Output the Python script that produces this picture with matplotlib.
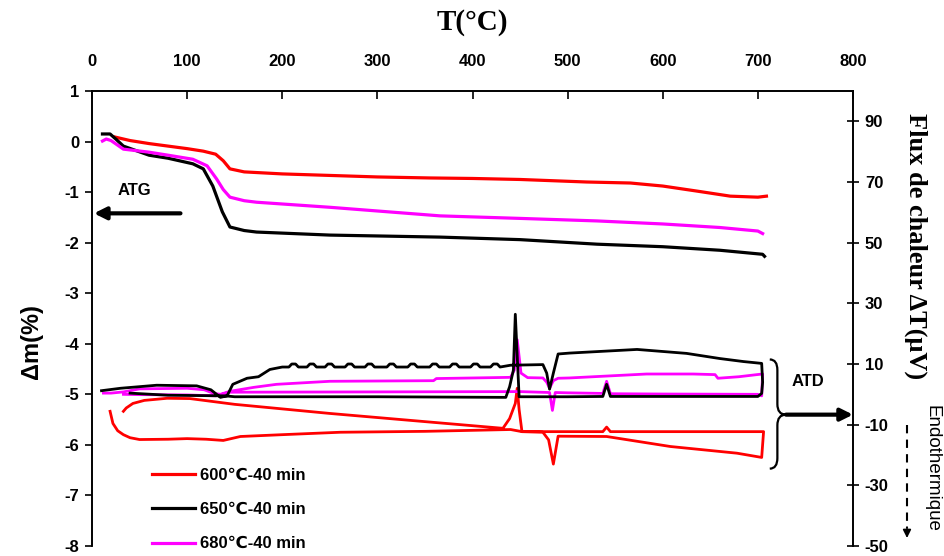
import matplotlib
matplotlib.use('Agg')

import matplotlib.pyplot as plt
from matplotlib.path import Path
from matplotlib.patches import PathPatch
from matplotlib.lines import Line2D

plt.rcParams['axes.unicode_minus'] = False

# ATG (perte de masse, axe gauche)
t_atg_600 = [24, 40, 60, 80, 100, 117, 130, 138, 145, 160, 200, 250, 300, 355, 400, 450, 520, 566, 600, 636, 671, 700, 709]
m_atg_600 = [0.09, 0.02, -0.04, -0.09, -0.14, -0.19, -0.25, -0.38, -0.54, -0.60, -0.64, -0.67, -0.70, -0.72, -0.73,
             -0.75, -0.80, -0.82, -0.88, -0.98, -1.08, -1.10, -1.08]

t_atg_650 = [11, 19, 25, 33, 60, 80, 106, 117, 127, 137, 145, 160, 173, 250, 366, 450, 531, 600, 660, 705, 707]
m_atg_650 = [0.15, 0.15, 0.05, -0.09, -0.27, -0.33, -0.44, -0.54, -0.88, -1.39, -1.69, -1.76, -1.79, -1.85, -1.89,
             -1.94, -2.03, -2.08, -2.15, -2.23, -2.27]

t_atg_680 = [11, 15, 20, 33, 60, 80, 106, 121, 131, 138, 145, 160, 173, 250, 366, 450, 531, 600, 660, 700, 705]
m_atg_680 = [0.01, 0.05, 0.02, -0.15, -0.21, -0.27, -0.35, -0.48, -0.74, -0.95, -1.10, -1.17, -1.20, -1.30, -1.47,
             -1.52, -1.57, -1.63, -1.70, -1.77, -1.82]

# ATD (flux de chaleur, axe droit) - boucles chauffage / refroidissement
t_atd_600 = [19, 22, 27, 33, 40, 50, 80, 100, 120, 138, 156, 200, 261, 350, 440, 452, 474, 480, 485, 490, 541, 608,
             678, 704, 706, 650, 545, 541, 537, 452, 449, 447, 445, 439, 432, 350, 250, 200, 150, 103, 79, 55, 43, 36, 33]
f_atd_600 = [-5.6, -9.6, -12.0, -13.3, -14.3, -14.9, -14.8, -14.6, -14.8, -15.2, -13.9, -13.3, -12.5, -12.2, -11.6,
             -12.3, -12.5, -15.0, -23.0, -13.8, -13.9, -17.2, -19.4, -20.8, -12.3, -12.3, -12.3, -10.8, -12.3, -12.3,
             -5.0, 2.0, -3.0, -8.0, -11.2, -9.0, -6.3, -4.8, -3.3, -1.4, -1.3, -2.0, -3.0, -4.5, -5.6]

t_atd_650 = [10, 30, 68, 110, 125, 135, 142, 148, 163, 175, 187, 200,
             207, 210, 214, 217, 226, 229, 233, 236, 245, 248, 252, 255, 266, 269, 273, 276,
             287, 290, 294, 297, 310, 313, 317, 320, 332, 335, 339, 342, 355, 358, 362, 365,
             376, 379, 383, 386, 398, 401, 405, 408, 419, 422, 426, 429,
             440, 474, 478, 481, 485, 490, 502, 573, 625, 660, 685, 704,
             705, 704, 700, 600, 545, 541, 537, 500, 449, 445, 443, 439, 435, 300, 150, 140, 80, 40]
f_atd_650 = [1.2, 2.0, 3.0, 2.8, 1.5, -1.0, -0.5, 3.3, 5.3, 5.8, 8.2, 9.0,
             9.0, 10.0, 10.0, 9.0, 9.0, 10.0, 10.0, 9.0, 9.0, 10.0, 10.0, 9.0, 9.0, 10.0, 10.0, 9.0,
             9.0, 10.0, 10.0, 9.0, 9.0, 10.0, 10.0, 9.0, 9.0, 10.0, 10.0, 9.0, 9.0, 10.0, 10.0, 9.0,
             9.0, 10.0, 10.0, 9.0, 9.0, 10.0, 10.0, 9.0, 9.0, 10.0, 10.0, 9.0,
             9.6, 9.8, 7.0, 1.7, 7.0, 13.3, 13.6, 14.8, 13.5, 11.8, 10.8, 10.2,
             4.0, 0.3, -0.7, -0.7, -0.7, 3.3, -0.7, -0.8, -0.8, 26.4, 8.0, 2.5, -1.0, -0.8, -0.8, -0.5, -0.3, 0.4]

t_atd_680 = [12, 20, 33, 50, 100, 118, 128, 135, 145, 170, 194, 250, 359, 362, 440, 444, 447, 451, 458, 474, 478, 481,
             485, 490, 502, 583, 632, 655, 658, 680, 699, 705,
             704, 700, 600, 545, 541, 537, 500, 487, 484, 481, 450, 300, 145, 130, 100, 50, 33]
f_atd_680 = [0.4, 0.4, 0.8, 1.8, 2.0, 1.5, 0.3, 0.0, 1.0, 2.3, 3.3, 4.3, 4.5, 5.2, 5.6, 8.0, 18.0, 7.0, 5.5, 5.4, 4.0,
             2.0, 4.5, 5.3, 5.4, 6.7, 6.7, 6.5, 5.3, 5.8, 6.5, 6.7,
             -0.5, 0.0, 0.1, 0.2, 4.3, 0.3, 0.5, 0.6, -5.3, 0.6, 0.9, 0.8, 0.7, -0.5, -0.2, -0.1, 0.0]

labels = ['600\u2103-40 min', '650\u2103-40 min', '680\u2103-40 min']
couleurs = ['#ff0000', '#000000', '#ff00ff']

sans = ['Liberation Sans', 'DejaVu Sans']
serif = ['Liberation Serif', 'DejaVu Serif']

fig = plt.figure(figsize=(9.44, 5.56), dpi=100)
ax = fig.add_axes([92 / 944, 1 - 546 / 556, 761 / 944, 455 / 556])
ax2 = ax.twinx()

# Courbes ATG
l1, = ax.plot(t_atg_600, m_atg_600, color=couleurs[0], lw=2.3)
l2, = ax.plot(t_atg_650, m_atg_650, color=couleurs[1], lw=2.3)
l3, = ax.plot(t_atg_680, m_atg_680, color=couleurs[2], lw=2.3)

# Courbes ATD
ax2.plot(t_atd_600, f_atd_600, color=couleurs[0], lw=2.0)
ax2.plot(t_atd_680, f_atd_680, color=couleurs[2], lw=2.0)
ax2.plot(t_atd_650, f_atd_650, color=couleurs[1], lw=2.0)

ax.set_xlim(0, 800)
ax.set_ylim(-8, 1)
ax2.set_ylim(-50, 100)
ax.set_xticks(range(0, 801, 100))
ax.set_yticks(range(-8, 2))
ax2.set_yticks(range(-50, 91, 20))

ax.xaxis.tick_top()
ax.tick_params(axis='x', direction='in', length=6, width=1.2, pad=16, labelsize=12)
ax.tick_params(axis='y', direction='out', length=5, width=1.2, pad=4, labelsize=12)
ax2.tick_params(axis='y', direction='inout', length=9, width=1.2, pad=4, labelsize=12)
for a in (ax, ax2):
    for lab in a.get_xticklabels() + a.get_yticklabels():
        lab.set_family(sans)
        lab.set_fontweight('bold')
    a.spines['bottom'].set_visible(False)
    for s in ('top', 'left', 'right'):
        a.spines[s].set_linewidth(1.2)

# Titres des axes
fig.text(472 / 944, 1 - 22 / 556, 'T(°C)', family=serif, fontweight='bold', fontsize=21,
         ha='center', va='center')
fig.text(31 / 944, 1 - 342 / 556, '\u0394m(%)', family=sans, fontweight='bold', fontsize=17,
         rotation=90, ha='center', va='center')
fig.text(916 / 944, 1 - 246 / 556, 'Flux de chaleur \u0394T(\u03bcV)', family=serif, fontweight='bold',
         fontsize=19, rotation=270, ha='center', va='center')

# ATG fleche
ax.text(45, -0.96, 'ATG', family=sans, fontweight='bold', fontsize=12, ha='center', va='center')
ax.annotate('', xy=(2, -1.42), xytext=(93, -1.42),
            arrowprops=dict(arrowstyle='-|>', lw=3, color='k', mutation_scale=18, shrinkA=0, shrinkB=0))

# ATD accolade + fleche
x0, x1, x2 = 712.5, 720.5, 729.5
yh, ym, yb, r = 11.5, -6.7, -24.5, 3.5
verts = [(x0, yh), (x1, yh), (x1, yh - r),
         (x1, ym + r),
         (x1, ym), (x2, ym),
         (x1, ym), (x1, ym - r),
         (x1, yb + r),
         (x1, yb), (x0, yb)]
codes = [Path.MOVETO, Path.CURVE3, Path.CURVE3,
         Path.LINETO,
         Path.CURVE3, Path.CURVE3,
         Path.CURVE3, Path.CURVE3,
         Path.LINETO,
         Path.CURVE3, Path.CURVE3]
ax2.add_patch(PathPatch(Path(verts, codes), fill=False, lw=1.6, color='k', clip_on=False))
ax2.annotate('', xy=(800, -6.7), xytext=(x2, -6.7), annotation_clip=False,
             arrowprops=dict(arrowstyle='-|>', lw=3, color='k', mutation_scale=18, shrinkA=0, shrinkB=0))
ax2.text(753, 4.3, 'ATD', family=sans, fontweight='bold', fontsize=12, ha='center', va='center')

# Endothermique
fig.text(932 / 944, 1 - 468 / 556, 'Endothermique', family=sans, fontsize=13.5, rotation=270,
         ha='center', va='center')
fig.add_artist(Line2D([907 / 944, 907 / 944], [1 - 425 / 556, 1 - 528 / 556], transform=fig.transFigure,
                      color='k', lw=1.5, ls=(0, (4, 3))))
ax2.annotate('', xy=(907 / 944, 1 - 538 / 556), xytext=(907 / 944, 1 - 527 / 556),
             xycoords='figure fraction', textcoords='figure fraction',
             arrowprops=dict(arrowstyle='-|>', lw=1.2, color='k', mutation_scale=12, shrinkA=0, shrinkB=0))

leg = ax2.legend([l1, l2, l3], labels, loc='upper left', bbox_to_anchor=(60 / 761, 78 / 455),
                 frameon=False, borderpad=0, borderaxespad=0, handlelength=2.6, handletextpad=0.3,
                 labelspacing=1.15, prop=dict(family=sans, weight='bold', size=12))

plt.savefig('out.png', dpi=100)
